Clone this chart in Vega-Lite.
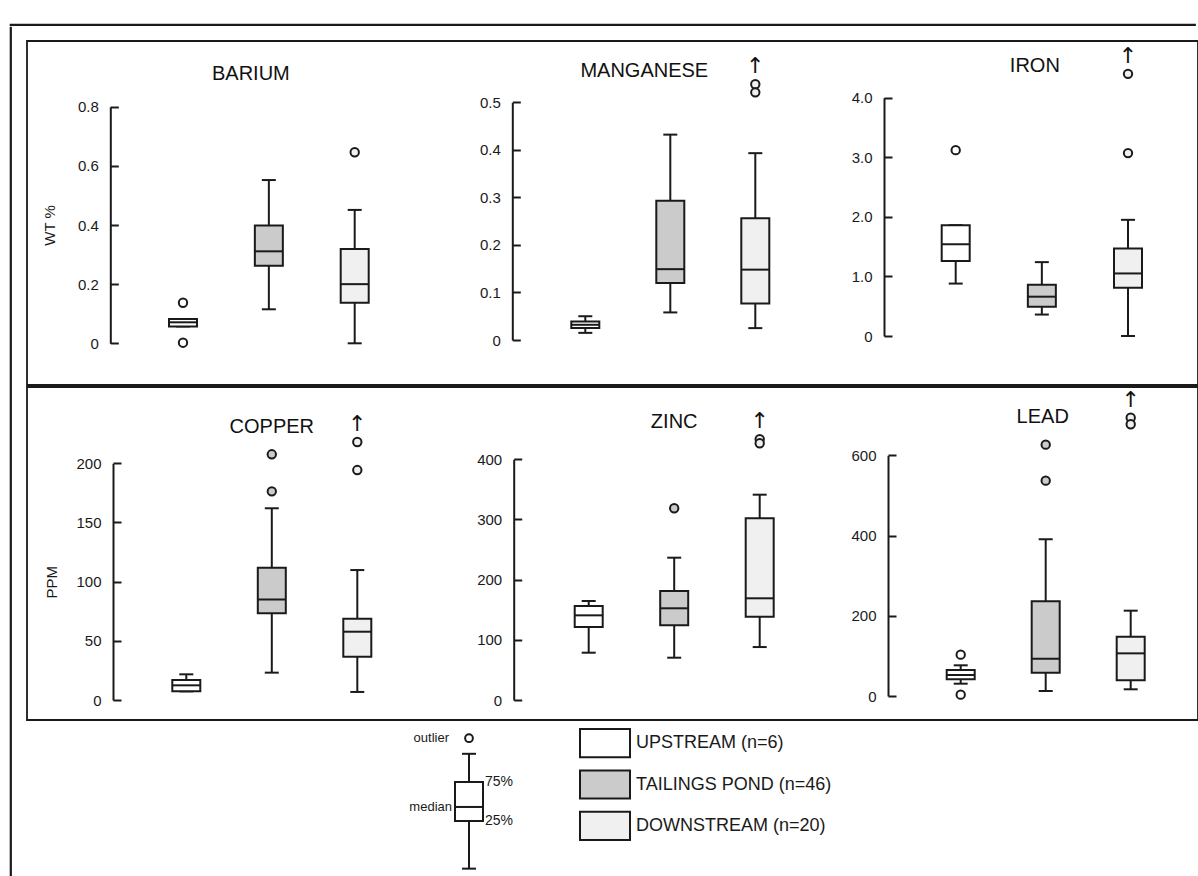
{
  "$schema": "https://vega.github.io/schema/vega-lite/v6.json",
  "padding": {"left": 9, "top": 23, "right": 0, "bottom": 0},
  "background": "white",
  "config": {
    "font": "Liberation Sans",
    "view": {"stroke": null},
    "tick": {"opacity": 1},
    "point": {"opacity": 1},
    "axis": {"grid": false, "tickSize": -8, "labelPadding": 20, "labelFlush": false, "labelOverlap": false, "domainColor": "#1a1a1a", "domainWidth": 2, "tickColor": "#1a1a1a", "tickWidth": 2, "labelFontSize": 15, "labelColor": "#1a1a1a", "titleFontSize": 15, "titleFontWeight": "normal", "titleColor": "#1a1a1a", "labelBaseline": "middle"}
  },
  "datasets": {
    "boxes": [
      {"element": "BARIUM", "site": "UPSTREAM", "lo": 0.057, "q1": 0.057, "median": 0.071, "q3": 0.082, "hi": 0.082},
      {"element": "BARIUM", "site": "TAILINGS POND", "lo": 0.115, "q1": 0.262, "median": 0.311, "q3": 0.398, "hi": 0.552},
      {"element": "BARIUM", "site": "DOWNSTREAM", "lo": 0.0, "q1": 0.137, "median": 0.2, "q3": 0.319, "hi": 0.451},
      {"element": "MANGANESE", "site": "UPSTREAM", "lo": 0.015, "q1": 0.025, "median": 0.032, "q3": 0.039, "hi": 0.05},
      {"element": "MANGANESE", "site": "TAILINGS POND", "lo": 0.058, "q1": 0.12, "median": 0.149, "q3": 0.293, "hi": 0.432},
      {"element": "MANGANESE", "site": "DOWNSTREAM", "lo": 0.025, "q1": 0.077, "median": 0.148, "q3": 0.256, "hi": 0.393},
      {"element": "IRON", "site": "UPSTREAM", "lo": 0.88, "q1": 1.26, "median": 1.54, "q3": 1.86, "hi": 1.86},
      {"element": "IRON", "site": "TAILINGS POND", "lo": 0.36, "q1": 0.49, "median": 0.66, "q3": 0.86, "hi": 1.24},
      {"element": "IRON", "site": "DOWNSTREAM", "lo": 0.0, "q1": 0.81, "median": 1.05, "q3": 1.47, "hi": 1.95},
      {"element": "COPPER", "site": "UPSTREAM", "lo": 7.3, "q1": 7.3, "median": 12.4, "q3": 16.9, "hi": 21.7},
      {"element": "COPPER", "site": "TAILINGS POND", "lo": 23.1, "q1": 73.2, "median": 85, "q3": 111.8, "hi": 162},
      {"element": "COPPER", "site": "DOWNSTREAM", "lo": 6.8, "q1": 36.6, "median": 57.7, "q3": 68.7, "hi": 109.8},
      {"element": "ZINC", "site": "UPSTREAM", "lo": 78.6, "q1": 121.3, "median": 140.7, "q3": 156.2, "hi": 164.5},
      {"element": "ZINC", "site": "TAILINGS POND", "lo": 70.3, "q1": 124.1, "median": 152.4, "q3": 181.2, "hi": 236.5},
      {"element": "ZINC", "site": "DOWNSTREAM", "lo": 88, "q1": 138.5, "median": 169, "q3": 302, "hi": 341.2},
      {"element": "LEAD", "site": "UPSTREAM", "lo": 30.7, "q1": 41.5, "median": 52.4, "q3": 64.8, "hi": 76.5},
      {"element": "LEAD", "site": "TAILINGS POND", "lo": 12.5, "q1": 58.1, "median": 93, "q3": 236, "hi": 390.6},
      {"element": "LEAD", "site": "DOWNSTREAM", "lo": 16.7, "q1": 39.1, "median": 106.3, "q3": 147.9, "hi": 212.7}
    ],
    "outliers": [
      {"element": "BARIUM", "site": "UPSTREAM", "value": 0.137},
      {"element": "BARIUM", "site": "UPSTREAM", "value": 0.002},
      {"element": "BARIUM", "site": "DOWNSTREAM", "value": 0.646},
      {"element": "MANGANESE", "site": "DOWNSTREAM", "value": 0.538},
      {"element": "MANGANESE", "site": "DOWNSTREAM", "value": 0.521},
      {"element": "IRON", "site": "UPSTREAM", "value": 3.12},
      {"element": "IRON", "site": "DOWNSTREAM", "value": 3.07},
      {"element": "IRON", "site": "DOWNSTREAM", "value": 4.4},
      {"element": "COPPER", "site": "TAILINGS POND", "value": 207.6},
      {"element": "COPPER", "site": "TAILINGS POND", "value": 176.3},
      {"element": "COPPER", "site": "DOWNSTREAM", "value": 218},
      {"element": "COPPER", "site": "DOWNSTREAM", "value": 194.3},
      {"element": "ZINC", "site": "TAILINGS POND", "value": 318.6},
      {"element": "ZINC", "site": "DOWNSTREAM", "value": 433.3},
      {"element": "ZINC", "site": "DOWNSTREAM", "value": 426.6},
      {"element": "LEAD", "site": "UPSTREAM", "value": 103},
      {"element": "LEAD", "site": "UPSTREAM", "value": 3.3},
      {"element": "LEAD", "site": "TAILINGS POND", "value": 626.5},
      {"element": "LEAD", "site": "TAILINGS POND", "value": 536.8},
      {"element": "LEAD", "site": "DOWNSTREAM", "value": 693.9},
      {"element": "LEAD", "site": "DOWNSTREAM", "value": 677.4}
    ],
    "offscale": [
      {"element": "MANGANESE", "site": "DOWNSTREAM", "value": 0.538},
      {"element": "IRON", "site": "DOWNSTREAM", "value": 4.4},
      {"element": "COPPER", "site": "DOWNSTREAM", "value": 218},
      {"element": "ZINC", "site": "DOWNSTREAM", "value": 433.3},
      {"element": "LEAD", "site": "DOWNSTREAM", "value": 693.9}
    ],
    "sites": [
      {"site": "UPSTREAM", "label": "UPSTREAM (n=6)"},
      {"site": "TAILINGS POND", "label": "TAILINGS POND (n=46)"},
      {"site": "DOWNSTREAM", "label": "DOWNSTREAM (n=20)"}
    ]
  },
  "spacing": 0,
  "vconcat": [
    {"width": 1185, "height": 1, "data": {"values": []}, "mark": "point", "view": {"stroke": "#1a1a1a", "strokeWidth": 1.2}},
    {
      "spacing": 14,
      "hconcat": [
        {"width": 1, "height": 850, "data": {"values": []}, "mark": "point", "view": {"stroke": "#1a1a1a", "strokeWidth": 1.2}},
        {
          "spacing": 0,
          "vconcat": [
            {"width": 1171, "height": 13, "data": {"values": []}, "mark": "point"},
            {
              "width": 1171, "height": 344,
              "view": {"stroke": "#1a1a1a", "strokeWidth": 1.8},
              "resolve": {"scale": {"x": "independent", "y": "independent"}, "axis": {"x": "independent", "y": "independent"}},
              "layer": [
                {
                  "encoding": {"x": {"field": "site", "type": "nominal", "axis": null, "scale": {"type": "point", "domain": ["UPSTREAM", "TAILINGS POND", "DOWNSTREAM"], "range": [156, 327.7], "padding": 0}}},
                  "layer": [
                    {
                      "data": {"name": "boxes"},
                      "transform": [{"filter": "datum.element === 'BARIUM'"}],
                      "layer": [
                        {"mark": {"type": "rule", "color": "#1a1a1a", "strokeWidth": 2},
                         "encoding": {"y": {"field": "lo", "type": "quantitative", "scale": {"domain": [0, 0.8], "range": [302.3, 65.7], "nice": false, "zero": false},
                           "axis": {"orient": "left", "offset": -83.3, "values": [0, 0.2, 0.4, 0.6, 0.8], "labelExpr": "datum.value === 0 ? '0' : format(datum.value, '.1f')", "title": "WT %", "titlePadding": 20}},
                           "y2": {"field": "hi"}}},
                        {"mark": {"type": "tick", "color": "#1a1a1a", "opacity": 1, "thickness": 2, "size": 14}, "encoding": {"y": {"field": "lo", "type": "quantitative"}}},
                        {"mark": {"type": "tick", "color": "#1a1a1a", "opacity": 1, "thickness": 2, "size": 14}, "encoding": {"y": {"field": "hi", "type": "quantitative"}}},
                        {"mark": {"type": "bar", "size": 28, "stroke": "#1a1a1a", "strokeWidth": 2, "opacity": 1}, "encoding": {"y": {"field": "q1", "type": "quantitative"}, "y2": {"field": "q3"}, "fill": {"field": "site", "type": "nominal", "legend": null, "scale": {"domain": ["UPSTREAM", "TAILINGS POND", "DOWNSTREAM"], "range": ["#ffffff", "#cbcbcb", "#f0f0f0"]}}}},
                        {"mark": {"type": "tick", "color": "#1a1a1a", "opacity": 1, "thickness": 2, "size": 28}, "encoding": {"y": {"field": "median", "type": "quantitative"}}},
                        {"transform": [{"filter": "datum.site === 'TAILINGS POND'"}], "mark": {"type": "text", "fontSize": 20, "dx": -18, "baseline": "alphabetic", "align": "center", "color": "#111111"}, "encoding": {"y": {"datum": 0.89}, "text": {"field": "element"}}}
                      ]
                    },
                    {"data": {"name": "outliers"}, "transform": [{"filter": "datum.element === 'BARIUM'"}], "mark": {"type": "point", "filled": true, "size": 70, "stroke": "#1a1a1a", "strokeWidth": 2, "opacity": 1}, "encoding": {"y": {"field": "value", "type": "quantitative"}, "fill": {"field": "site", "type": "nominal", "legend": null}}},
                    {"data": {"name": "offscale"}, "transform": [{"filter": "datum.element === 'BARIUM'"}], "mark": {"type": "text", "text": "↑", "dy": -18, "fontSize": 22, "font": "DejaVu Sans", "baseline": "middle", "color": "#111111"}, "encoding": {"y": {"field": "value", "type": "quantitative"}}}
                  ]
                },
                {
                  "encoding": {"x": {"field": "site", "type": "nominal", "axis": null, "scale": {"type": "point", "domain": ["UPSTREAM", "TAILINGS POND", "DOWNSTREAM"], "range": [558.3, 728.3], "padding": 0}}},
                  "layer": [
                    {
                      "data": {"name": "boxes"},
                      "transform": [{"filter": "datum.element === 'MANGANESE'"}],
                      "layer": [
                        {"mark": {"type": "rule", "color": "#1a1a1a", "strokeWidth": 2},
                         "encoding": {"y": {"field": "lo", "type": "quantitative", "scale": {"domain": [0, 0.5], "range": [299, 61.3], "nice": false, "zero": false},
                           "axis": {"orient": "left", "offset": -485.3, "values": [0, 0.1, 0.2, 0.3, 0.4, 0.5], "labelExpr": "datum.value === 0 ? '0' : format(datum.value, '.1f')", "title": null}},
                           "y2": {"field": "hi"}}},
                        {"mark": {"type": "tick", "color": "#1a1a1a", "opacity": 1, "thickness": 2, "size": 14}, "encoding": {"y": {"field": "lo", "type": "quantitative"}}},
                        {"mark": {"type": "tick", "color": "#1a1a1a", "opacity": 1, "thickness": 2, "size": 14}, "encoding": {"y": {"field": "hi", "type": "quantitative"}}},
                        {"mark": {"type": "bar", "size": 28, "stroke": "#1a1a1a", "strokeWidth": 2, "opacity": 1}, "encoding": {"y": {"field": "q1", "type": "quantitative"}, "y2": {"field": "q3"}, "fill": {"field": "site", "type": "nominal", "legend": null}}},
                        {"mark": {"type": "tick", "color": "#1a1a1a", "opacity": 1, "thickness": 2, "size": 28}, "encoding": {"y": {"field": "median", "type": "quantitative"}}},
                        {"transform": [{"filter": "datum.site === 'TAILINGS POND'"}], "mark": {"type": "text", "fontSize": 20, "dx": -26, "baseline": "alphabetic", "align": "center", "color": "#111111"}, "encoding": {"y": {"datum": 0.554}, "text": {"field": "element"}}}
                      ]
                    },
                    {"data": {"name": "outliers"}, "transform": [{"filter": "datum.element === 'MANGANESE'"}], "mark": {"type": "point", "filled": true, "size": 70, "stroke": "#1a1a1a", "strokeWidth": 2, "opacity": 1}, "encoding": {"y": {"field": "value", "type": "quantitative"}, "fill": {"field": "site", "type": "nominal", "legend": null}}},
                    {"data": {"name": "offscale"}, "transform": [{"filter": "datum.element === 'MANGANESE'"}], "mark": {"type": "text", "text": "↑", "dy": -18, "fontSize": 22, "font": "DejaVu Sans", "baseline": "middle", "color": "#111111"}, "encoding": {"y": {"field": "value", "type": "quantitative"}}}
                  ]
                },
                {
                  "encoding": {"x": {"field": "site", "type": "nominal", "axis": null, "scale": {"type": "point", "domain": ["UPSTREAM", "TAILINGS POND", "DOWNSTREAM"], "range": [928.7, 1101], "padding": 0}}},
                  "layer": [
                    {
                      "data": {"name": "boxes"},
                      "transform": [{"filter": "datum.element === 'IRON'"}],
                      "layer": [
                        {"mark": {"type": "rule", "color": "#1a1a1a", "strokeWidth": 2},
                         "encoding": {"y": {"field": "lo", "type": "quantitative", "scale": {"domain": [0, 4], "range": [295, 56.7], "nice": false, "zero": false},
                           "axis": {"orient": "left", "offset": -857, "values": [0, 1, 2, 3, 4], "labelExpr": "datum.value === 0 ? '0' : format(datum.value, '.1f')", "title": null}},
                           "y2": {"field": "hi"}}},
                        {"mark": {"type": "tick", "color": "#1a1a1a", "opacity": 1, "thickness": 2, "size": 14}, "encoding": {"y": {"field": "lo", "type": "quantitative"}}},
                        {"mark": {"type": "tick", "color": "#1a1a1a", "opacity": 1, "thickness": 2, "size": 14}, "encoding": {"y": {"field": "hi", "type": "quantitative"}}},
                        {"mark": {"type": "bar", "size": 28, "stroke": "#1a1a1a", "strokeWidth": 2, "opacity": 1}, "encoding": {"y": {"field": "q1", "type": "quantitative"}, "y2": {"field": "q3"}, "fill": {"field": "site", "type": "nominal", "legend": null}}},
                        {"mark": {"type": "tick", "color": "#1a1a1a", "opacity": 1, "thickness": 2, "size": 28}, "encoding": {"y": {"field": "median", "type": "quantitative"}}},
                        {"transform": [{"filter": "datum.site === 'TAILINGS POND'"}], "mark": {"type": "text", "fontSize": 20, "dx": -7, "baseline": "alphabetic", "align": "center", "color": "#111111"}, "encoding": {"y": {"datum": 4.426}, "text": {"field": "element"}}}
                      ]
                    },
                    {"data": {"name": "outliers"}, "transform": [{"filter": "datum.element === 'IRON'"}], "mark": {"type": "point", "filled": true, "size": 70, "stroke": "#1a1a1a", "strokeWidth": 2, "opacity": 1}, "encoding": {"y": {"field": "value", "type": "quantitative"}, "fill": {"field": "site", "type": "nominal", "legend": null}}},
                    {"data": {"name": "offscale"}, "transform": [{"filter": "datum.element === 'IRON'"}], "mark": {"type": "text", "text": "↑", "dy": -18, "fontSize": 22, "font": "DejaVu Sans", "baseline": "middle", "color": "#111111"}, "encoding": {"y": {"field": "value", "type": "quantitative"}}}
                  ]
                }
              ]
            },
            {
              "width": 1171, "height": 333,
              "view": {"stroke": "#1a1a1a", "strokeWidth": 1.8},
              "resolve": {"scale": {"x": "independent", "y": "independent"}, "axis": {"x": "independent", "y": "independent"}},
              "layer": [
                {
                  "encoding": {"x": {"field": "site", "type": "nominal", "axis": null, "scale": {"type": "point", "domain": ["UPSTREAM", "TAILINGS POND", "DOWNSTREAM"], "range": [159.3, 330.3], "padding": 0}}},
                  "layer": [
                    {
                      "data": {"name": "boxes"},
                      "transform": [{"filter": "datum.element === 'COPPER'"}],
                      "layer": [
                        {"mark": {"type": "rule", "color": "#1a1a1a", "strokeWidth": 2},
                         "encoding": {"y": {"field": "lo", "type": "quantitative", "scale": {"domain": [0, 200], "range": [313, 76.3], "nice": false, "zero": false},
                           "axis": {"orient": "left", "offset": -86, "values": [0, 50, 100, 150, 200], "title": "PPM", "titlePadding": 16}},
                           "y2": {"field": "hi"}}},
                        {"mark": {"type": "tick", "color": "#1a1a1a", "opacity": 1, "thickness": 2, "size": 14}, "encoding": {"y": {"field": "lo", "type": "quantitative"}}},
                        {"mark": {"type": "tick", "color": "#1a1a1a", "opacity": 1, "thickness": 2, "size": 14}, "encoding": {"y": {"field": "hi", "type": "quantitative"}}},
                        {"mark": {"type": "bar", "size": 28, "stroke": "#1a1a1a", "strokeWidth": 2, "opacity": 1}, "encoding": {"y": {"field": "q1", "type": "quantitative"}, "y2": {"field": "q3"}, "fill": {"field": "site", "type": "nominal", "legend": null}}},
                        {"mark": {"type": "tick", "color": "#1a1a1a", "opacity": 1, "thickness": 2, "size": 28}, "encoding": {"y": {"field": "median", "type": "quantitative"}}},
                        {"transform": [{"filter": "datum.site === 'TAILINGS POND'"}], "mark": {"type": "text", "fontSize": 20, "dx": 0, "baseline": "alphabetic", "align": "center", "color": "#111111"}, "encoding": {"y": {"datum": 225.9}, "text": {"field": "element"}}}
                      ]
                    },
                    {"data": {"name": "outliers"}, "transform": [{"filter": "datum.element === 'COPPER'"}], "mark": {"type": "point", "filled": true, "size": 70, "stroke": "#1a1a1a", "strokeWidth": 2, "opacity": 1}, "encoding": {"y": {"field": "value", "type": "quantitative"}, "fill": {"field": "site", "type": "nominal", "legend": null}}},
                    {"data": {"name": "offscale"}, "transform": [{"filter": "datum.element === 'COPPER'"}], "mark": {"type": "text", "text": "↑", "dy": -18, "fontSize": 22, "font": "DejaVu Sans", "baseline": "middle", "color": "#111111"}, "encoding": {"y": {"field": "value", "type": "quantitative"}}}
                  ]
                },
                {
                  "encoding": {"x": {"field": "site", "type": "nominal", "axis": null, "scale": {"type": "point", "domain": ["UPSTREAM", "TAILINGS POND", "DOWNSTREAM"], "range": [561.7, 732.7], "padding": 0}}},
                  "layer": [
                    {
                      "data": {"name": "boxes"},
                      "transform": [{"filter": "datum.element === 'ZINC'"}],
                      "layer": [
                        {"mark": {"type": "rule", "color": "#1a1a1a", "strokeWidth": 2},
                         "encoding": {"y": {"field": "lo", "type": "quantitative", "scale": {"domain": [0, 400], "range": [313, 72.3], "nice": false, "zero": false},
                           "axis": {"orient": "left", "offset": -486.7, "values": [0, 100, 200, 300, 400], "title": null}},
                           "y2": {"field": "hi"}}},
                        {"mark": {"type": "tick", "color": "#1a1a1a", "opacity": 1, "thickness": 2, "size": 14}, "encoding": {"y": {"field": "lo", "type": "quantitative"}}},
                        {"mark": {"type": "tick", "color": "#1a1a1a", "opacity": 1, "thickness": 2, "size": 14}, "encoding": {"y": {"field": "hi", "type": "quantitative"}}},
                        {"mark": {"type": "bar", "size": 28, "stroke": "#1a1a1a", "strokeWidth": 2, "opacity": 1}, "encoding": {"y": {"field": "q1", "type": "quantitative"}, "y2": {"field": "q3"}, "fill": {"field": "site", "type": "nominal", "legend": null}}},
                        {"mark": {"type": "tick", "color": "#1a1a1a", "opacity": 1, "thickness": 2, "size": 28}, "encoding": {"y": {"field": "median", "type": "quantitative"}}},
                        {"transform": [{"filter": "datum.site === 'TAILINGS POND'"}], "mark": {"type": "text", "fontSize": 20, "dx": 0, "baseline": "alphabetic", "align": "center", "color": "#111111"}, "encoding": {"y": {"datum": 452}, "text": {"field": "element"}}}
                      ]
                    },
                    {"data": {"name": "outliers"}, "transform": [{"filter": "datum.element === 'ZINC'"}], "mark": {"type": "point", "filled": true, "size": 70, "stroke": "#1a1a1a", "strokeWidth": 2, "opacity": 1}, "encoding": {"y": {"field": "value", "type": "quantitative"}, "fill": {"field": "site", "type": "nominal", "legend": null}}},
                    {"data": {"name": "offscale"}, "transform": [{"filter": "datum.element === 'ZINC'"}], "mark": {"type": "text", "text": "↑", "dy": -18, "fontSize": 22, "font": "DejaVu Sans", "baseline": "middle", "color": "#111111"}, "encoding": {"y": {"field": "value", "type": "quantitative"}}}
                  ]
                },
                {
                  "encoding": {"x": {"field": "site", "type": "nominal", "axis": null, "scale": {"type": "point", "domain": ["UPSTREAM", "TAILINGS POND", "DOWNSTREAM"], "range": [933.7, 1103.7], "padding": 0}}},
                  "layer": [
                    {
                      "data": {"name": "boxes"},
                      "transform": [{"filter": "datum.element === 'LEAD'"}],
                      "layer": [
                        {"mark": {"type": "rule", "color": "#1a1a1a", "strokeWidth": 2},
                         "encoding": {"y": {"field": "lo", "type": "quantitative", "scale": {"domain": [0, 600], "range": [309, 68.3], "nice": false, "zero": false},
                           "axis": {"orient": "left", "offset": -861, "values": [0, 200, 400, 600], "title": null}},
                           "y2": {"field": "hi"}}},
                        {"mark": {"type": "tick", "color": "#1a1a1a", "opacity": 1, "thickness": 2, "size": 14}, "encoding": {"y": {"field": "lo", "type": "quantitative"}}},
                        {"mark": {"type": "tick", "color": "#1a1a1a", "opacity": 1, "thickness": 2, "size": 14}, "encoding": {"y": {"field": "hi", "type": "quantitative"}}},
                        {"mark": {"type": "bar", "size": 28, "stroke": "#1a1a1a", "strokeWidth": 2, "opacity": 1}, "encoding": {"y": {"field": "q1", "type": "quantitative"}, "y2": {"field": "q3"}, "fill": {"field": "site", "type": "nominal", "legend": null}}},
                        {"mark": {"type": "tick", "color": "#1a1a1a", "opacity": 1, "thickness": 2, "size": 28}, "encoding": {"y": {"field": "median", "type": "quantitative"}}},
                        {"transform": [{"filter": "datum.site === 'TAILINGS POND'"}], "mark": {"type": "text", "fontSize": 20, "dx": -3, "baseline": "alphabetic", "align": "center", "color": "#111111"}, "encoding": {"y": {"datum": 680}, "text": {"field": "element"}}}
                      ]
                    },
                    {"data": {"name": "outliers"}, "transform": [{"filter": "datum.element === 'LEAD'"}], "mark": {"type": "point", "filled": true, "size": 70, "stroke": "#1a1a1a", "strokeWidth": 2, "opacity": 1}, "encoding": {"y": {"field": "value", "type": "quantitative"}, "fill": {"field": "site", "type": "nominal", "legend": null}}},
                    {"data": {"name": "offscale"}, "transform": [{"filter": "datum.element === 'LEAD'"}], "mark": {"type": "text", "text": "↑", "dy": -18, "fontSize": 22, "font": "DejaVu Sans", "baseline": "middle", "color": "#111111"}, "encoding": {"y": {"field": "value", "type": "quantitative"}}}
                  ]
                }
              ]
            },
            {
              "width": 1171, "height": 156,
              "resolve": {"scale": {"x": "independent", "y": "independent"}, "axis": {"x": "independent", "y": "independent"}},
              "layer": [
                {
                  "data": {"values": [{"key": "key", "lo": 1.03, "q1": 5.0, "median": 6.17, "q3": 8.25, "hi": 10.6, "outlier": 11.9}]},
                  "encoding": {"x": {"field": "key", "type": "nominal", "axis": null, "scale": {"type": "point", "domain": ["key"], "range": [432, 452], "padding": 0.5}}},
                  "layer": [
                    {"mark": {"type": "rule", "color": "#1a1a1a", "strokeWidth": 2}, "encoding": {"y": {"field": "lo", "type": "quantitative", "axis": null, "scale": {"domain": [0, 12], "range": [160, 16], "nice": false, "zero": false}}, "y2": {"field": "hi"}}},
                    {"mark": {"type": "tick", "color": "#1a1a1a", "opacity": 1, "thickness": 2, "size": 14}, "encoding": {"y": {"field": "lo", "type": "quantitative"}}},
                    {"mark": {"type": "tick", "color": "#1a1a1a", "opacity": 1, "thickness": 2, "size": 14}, "encoding": {"y": {"field": "hi", "type": "quantitative"}}},
                    {"mark": {"type": "bar", "size": 28, "fill": "#ffffff", "stroke": "#1a1a1a", "strokeWidth": 2, "opacity": 1}, "encoding": {"y": {"field": "q1", "type": "quantitative"}, "y2": {"field": "q3"}}},
                    {"mark": {"type": "tick", "color": "#1a1a1a", "opacity": 1, "thickness": 2, "size": 28}, "encoding": {"y": {"field": "median", "type": "quantitative"}}},
                    {"mark": {"type": "point", "filled": true, "fill": "#ffffff", "size": 60, "stroke": "#1a1a1a", "strokeWidth": 2, "opacity": 1}, "encoding": {"y": {"field": "outlier", "type": "quantitative"}}},
                    {"mark": {"type": "text", "text": "outlier", "align": "right", "baseline": "middle", "dx": -20, "fontSize": 13, "color": "#1a1a1a"}, "encoding": {"y": {"field": "outlier", "type": "quantitative"}}},
                    {"mark": {"type": "text", "text": "median", "align": "right", "baseline": "middle", "dx": -17, "fontSize": 13, "color": "#1a1a1a"}, "encoding": {"y": {"field": "median", "type": "quantitative"}}},
                    {"mark": {"type": "text", "text": "75%", "align": "left", "baseline": "middle", "dx": 16, "fontSize": 14, "color": "#1a1a1a"}, "encoding": {"y": {"field": "q3", "type": "quantitative"}}},
                    {"mark": {"type": "text", "text": "25%", "align": "left", "baseline": "middle", "dx": 16, "fontSize": 14, "color": "#1a1a1a"}, "encoding": {"y": {"field": "q1", "type": "quantitative"}}}
                  ]
                },
                {
                  "data": {"name": "sites"},
                  "layer": [
                    {"mark": {"type": "rect", "stroke": "#1a1a1a", "strokeWidth": 2},
                     "encoding": {
                       "x": {"datum": 0, "type": "quantitative", "axis": null, "scale": {"domain": [0, 1], "range": [553, 603]}},
                       "x2": {"datum": 1},
                       "y": {"field": "site", "type": "nominal", "axis": null, "scale": {"domain": ["UPSTREAM", "TAILINGS POND", "DOWNSTREAM"], "range": [8, 119], "paddingInner": 0.32, "paddingOuter": 0}},
                       "fill": {"field": "site", "type": "nominal", "legend": null}}},
                    {"mark": {"type": "text", "align": "left", "baseline": "middle", "dx": 6, "fontSize": 18, "color": "#1a1a1a"},
                     "encoding": {
                       "x": {"datum": 1, "type": "quantitative"},
                       "y": {"field": "site", "type": "nominal"},
                       "text": {"field": "label"}}}
                  ]
                }
              ]
            }
          ]
        }
      ]
    }
  ]
}
